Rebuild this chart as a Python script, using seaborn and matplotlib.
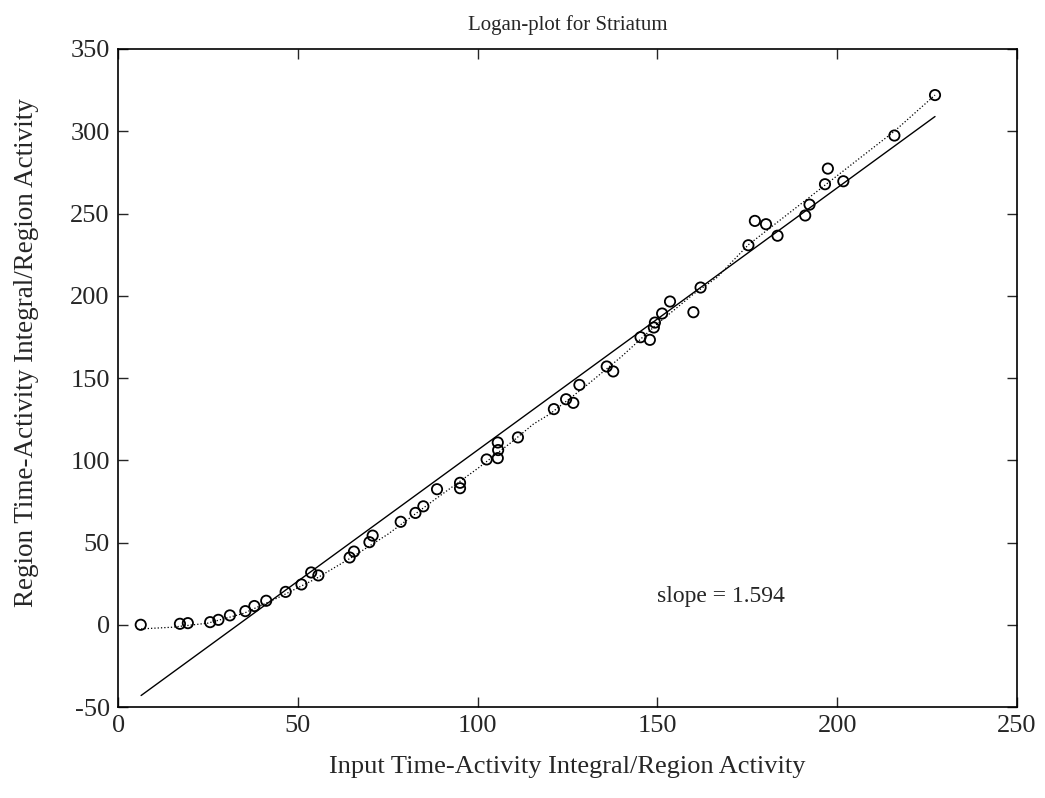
import matplotlib
matplotlib.use('Agg')
import matplotlib.pyplot as plt
import numpy as np
import pandas as pd
import seaborn as sns

# measured points (x = input integral / region activity, y = region integral / region activity)
xs = [6.3, 17.2, 19.4, 25.6, 27.9, 31.1, 35.4, 37.9, 41.2, 46.6, 51.0, 53.7, 55.7,
      64.4, 65.6, 69.9, 70.8, 78.6, 82.7, 84.9, 88.7, 95.1, 95.1, 102.5, 105.6, 105.7,
      105.6, 111.2, 121.2, 124.6, 126.6, 128.3, 135.9, 137.7, 145.3, 147.9, 149.0,
      149.3, 151.3, 153.5, 160.0, 162.0, 175.3, 177.1, 180.2, 183.4, 191.1, 192.3,
      196.6, 197.4, 201.7, 215.9, 227.2]
ys = [0.0, 0.6, 1.0, 1.6, 3.0, 5.7, 8.3, 11.4, 14.6, 20.0, 24.5, 31.8, 30.0,
      40.9, 44.5, 50.2, 54.2, 62.6, 68.0, 72.0, 82.4, 86.3, 83.0, 100.5, 110.8, 106.2,
      101.3, 113.9, 131.1, 137.1, 134.9, 145.8, 157.0, 154.0, 174.8, 173.2, 180.7,
      183.7, 189.2, 196.5, 190.0, 205.0, 230.7, 245.5, 243.5, 236.5, 248.8, 255.4,
      267.8, 277.3, 269.6, 297.4, 322.0]

# dotted smoothed curve
curve_x = [6.4, 15, 25, 35, 45, 55, 65, 75, 88, 100, 110, 115.5, 120, 130, 140, 150,
           160, 166.5, 175.3, 190, 200, 215.9, 227.2]
curve_y = [-2.5, -1.5, 1, 7, 17, 28, 41, 55, 76, 95, 112, 122, 128, 145, 163, 183,
           201, 211, 231, 256, 273, 300, 322]

# linear fit
slope = 1.594
intercept = -53.2
fit_x = [6.4, 227.2]

df = pd.DataFrame({'x': xs, 'y': ys})
df_curve = pd.DataFrame({'x': curve_x, 'y': curve_y})
df_fit = pd.DataFrame({'x': fit_x, 'y': [slope * v + intercept for v in fit_x]})

sns.set_style('ticks')
plt.rcParams['font.family'] = ['Liberation Serif', 'DejaVu Serif']
plt.rcParams['axes.unicode_minus'] = False

fig = plt.figure(figsize=(10.45, 7.98), dpi=100)
ax = fig.add_axes([0.113, 0.114, 0.8602, 0.8246])

sns.lineplot(data=df_curve, x='x', y='y', ax=ax, color='black', linestyle=':',
             linewidth=0.9, sort=False, estimator=None)
sns.lineplot(data=df_fit, x='x', y='y', ax=ax, color='black', linewidth=1.0,
             sort=False, estimator=None)
sns.scatterplot(data=df, x='x', y='y', ax=ax, marker='o', s=55,
                facecolors='none', edgecolor='black', linewidth=1.3, zorder=3)

ax.set_xlim(0, 250)
ax.set_ylim(-50, 350)
ax.set_xticks([0, 50, 100, 150, 200, 250])
ax.set_yticks([-50, 0, 50, 100, 150, 200, 250, 300, 350])
ax.tick_params(direction='in', length=7, width=1, top=True, right=True,
               labelsize=19, pad=6)
for s in ax.spines.values():
    s.set_linewidth(1.2)
    s.set_color('black')

ax.text(150, 17, 'slope = 1.594', fontsize=17, va='center', ha='left')
ax.set_title('Logan-plot for Striatum', fontsize=15, pad=14)
ax.set_xlabel('Input Time-Activity Integral/Region Activity', fontsize=19)
ax.set_ylabel('Region Time-Activity Integral/Region Activity', fontsize=19.5)
ax.xaxis.set_label_coords(0.5, -0.091)
ax.xaxis.label.set_va('center')
ax.yaxis.set_label_coords(-0.102, 0.538)
ax.yaxis.label.set_va('center')

fig.savefig('out.png', dpi=100)
